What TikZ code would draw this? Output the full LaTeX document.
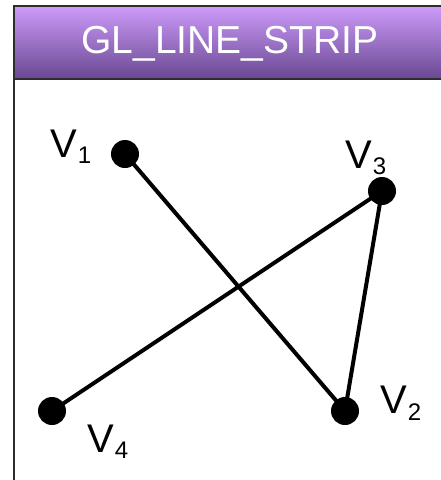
\documentclass[tikz,border=0pt]{standalone}
\usepackage{fontspec}
\setmainfont{Liberation Sans}
\newcommand\vlab[2]{{\fontsize{40}{40}\selectfont V}\hspace{1pt}\raisebox{-#2pt}{\fontsize{24}{24}\selectfont #1}}
\begin{document}
\begin{tikzpicture}[x=1pt,y=-1pt,
  dot/.style={circle,fill=black,minimum size=28pt,inner sep=0pt},
  strip/.style={line width=4pt,line join=round,line cap=round},
  vlabel/.style={anchor=base west,inner sep=0pt},
  titlebar/.style={top color=titletop,bottom color=titlebot,draw=framegray,line width=2pt},
  frameline/.style={draw=framegray,line width=2.5pt}]
\definecolor{titletop}{RGB}{205,155,250}
\definecolor{titlebot}{RGB}{105,72,145}
\definecolor{framegray}{RGB}{45,45,45}
\useasboundingbox (0,0) rectangle (441,480);
\fill[white] (0,0) rectangle (441,480);
\path[titlebar] (14,6) rectangle (443,79);
\draw[frameline] (14,79) -- (14,482);
\node[anchor=base,inner sep=0pt,text=white,font=\fontsize{39}{39}\selectfont] (title) at (230,53) {GL\_LINE\_STRIP};
\node[dot] (v1) at (125,154) {};
\node[dot] (v2) at (345,411) {};
\node[dot] (v3) at (382,191) {};
\node[dot] (v4) at (52,411) {};
\draw[strip] (v1.center) -- (v2.center) -- (v3.center) -- (v4.center);
\node[vlabel] (l1) at (50,157) {\vlab{1}{6}};
\node[vlabel] (l3) at (345,168) {\vlab{3}{6}};
\node[vlabel] (l2) at (380,413) {\vlab{2}{7}};
\node[vlabel] (l4) at (87,452) {\vlab{4}{6}};
\end{tikzpicture}
\end{document}
